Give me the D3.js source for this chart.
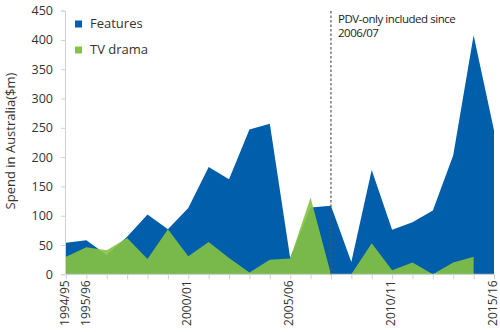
<!DOCTYPE html>
<html>
<head>
<meta charset="utf-8">
<script src="https://cdn.jsdelivr.net/npm/d3@7"></script>
<style>
  html, body { margin: 0; padding: 0; background: #fff; }
  svg { display: block; font-family: "Open Sans", sans-serif; }
</style>
</head>
<body>
<svg id="chart" width="500" height="332"></svg>
<script>
const years = ["1994/95","1995/96","1996/97","1997/98","1998/99","1999/00","2000/01","2001/02","2002/03","2003/04","2004/05","2005/06","2006/07","2007/08","2008/09","2009/10","2010/11","2011/12","2012/13","2013/14","2014/15","2015/16"];
const features = [54, 58, 33, 64, 102, 77, 113, 183, 162, 247, 257, 28, 114, 117, 21, 178, 76, 89, 109, 203, 408, 246];
const tvDrama = [30, 46, 41, 62, 26, 77, 31, 55, 28, 3, 25, 27, 131, 0, 0, 53, 7, 20, 0, 20, 30, null];
const labelledYears = ["1994/95","1995/96","2000/01","2005/06","2010/11","2015/16"];
const yTicks = [0, 50, 100, 150, 200, 250, 300, 350, 400, 450];
const seriesNames = ["Features", "TV drama"];
const annotationYear = "2007/08";
const annotationLines = ["PDV-only included since", "2006/07"];

const svg = d3.select("#chart");
const x = d3.scalePoint().domain(years).range([66, 494]);
const y = d3.scaleLinear().domain([0, 450]).range([274.3, 10.6]);

const blue = "#005eab";
const green = "#86c23f";

const areaF = d3.area().x((d, i) => x(years[i])).y0(y(0)).y1(d => y(d));
const areaT = d3.area().defined(d => d !== null).x((d, i) => x(years[i])).y0(y(0)).y1(d => y(d));

svg.append("path").datum(features).attr("d", areaF).attr("fill", blue);
svg.append("path").datum(tvDrama).attr("d", areaT).attr("fill", green).attr("fill-opacity", 0.9);

// Y axis
const yAxis = svg.append("g").attr("transform", `translate(${x(years[0]) - 1},0)`)
  .call(d3.axisLeft(y).tickValues(yTicks).tickSize(4).tickPadding(8));
yAxis.select(".domain").attr("stroke", "#d0d0d0");
yAxis.selectAll(".tick line").attr("stroke", "#d0d0d0");
yAxis.selectAll("text").attr("font-size", 12.5).attr("fill", "#333").attr("font-family", "Open Sans");

// X axis
const xAxis = svg.append("g").attr("transform", `translate(0,${y(0)})`)
  .call(d3.axisBottom(x).tickSize(5).tickPadding(4).tickFormat(d => labelledYears.includes(d) ? d : ""));
xAxis.select(".domain").attr("stroke", "#d0d0d0").attr("d", `M${x(years[0])},0H${x(years[years.length-1])}`);
xAxis.selectAll(".tick line").attr("stroke", "#d0d0d0");
xAxis.selectAll("text")
  .attr("font-size", 12).attr("fill", "#333").attr("font-family", "Open Sans")
  .attr("transform", "rotate(-90)")
  .attr("text-anchor", "end")
  .attr("x", -6).attr("y", 0).attr("dy", "0.22em");

// Dashed annotation line
const ax = x(annotationYear);
svg.append("line").attr("x1", ax).attr("x2", ax).attr("y1", 11).attr("y2", y(0))
  .attr("stroke", "#555").attr("stroke-width", 1.2).attr("stroke-dasharray", "2.5,2");

const ann = svg.append("text").attr("x", ax + 7).attr("y", 22.5)
  .attr("font-size", 11.5).attr("fill", "#222").attr("letter-spacing", -0.45);
annotationLines.forEach((t, i) => ann.append("tspan").attr("x", ax + 7).attr("dy", i === 0 ? 0 : 14.5).text(t));

// Legend
const legColors = [blue, green];
seriesNames.forEach((n, i) => {
  const g = svg.append("g").attr("transform", `translate(75,${20.5 + i * 26})`);
  g.append("rect").attr("width", 7).attr("height", 7).attr("fill", legColors[i]);
  g.append("text").attr("x", 15).attr("y", 7.5).attr("font-size", 13).attr("fill", "#333").text(n);
});

// Y axis title
svg.append("text").attr("transform", "translate(15,141) rotate(-90)")
  .attr("text-anchor", "middle").attr("font-size", 13).attr("fill", "#333")
  .text("Spend in Australia($m)");
</script>
</body>
</html>
